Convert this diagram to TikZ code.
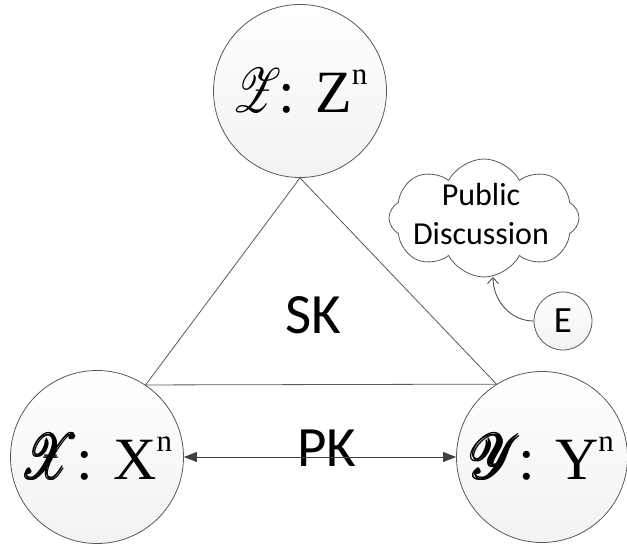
\documentclass[tikz,border=0pt]{standalone}
\usepackage{fontspec}
\setmainfont{Carlito}
\newfontfamily\tnr{Liberation Serif}
\usepackage{amsmath}
\usepackage{mathrsfs}
\usepackage{graphicx}
\usetikzlibrary{arrows.meta,shapes.symbols}
\definecolor{linegray}{HTML}{595959}
\definecolor{arrgray}{HTML}{404040}
\newcommand{\entlabel}[2]{#1\kern-3pt{\tnr\fontsize{60}{60}\selectfont : #2\raisebox{28pt}{\fontsize{31}{31}\selectfont n}}}
\begin{document}
\begin{tikzpicture}[x=1pt,y=-1pt,
  ent/.style={circle, draw=linegray, line width=0.8pt, top color=white, bottom color=black!5,
    minimum size=#1, inner sep=0pt},
  ent/.default=173pt,
  edgeline/.style={draw=linegray, line width=0.8pt},
  pkarrow/.style={draw=arrgray, line width=0.8pt,
    {Triangle[length=13pt,width=10pt]}-{Triangle[length=13pt,width=10pt]}},
  cloudarrow/.style={draw=arrgray, line width=0.8pt, -{Straight Barb[length=6pt,width=11pt]}},
  bigtext/.style={font=\fontsize{57}{60}\selectfont, inner sep=0pt},
  midtext/.style={font=\fontsize{32}{39}\selectfont, inner sep=0pt, align=center}
]
\useasboundingbox (0,0) rectangle (627,544);

\node[ent] (Z) at (300,91) {\entlabel{\scalebox{4.6}[6.3]{$\mathscr{Z}$}}{Z}};
\node[ent] (X) at (97,457) {\entlabel{\scalebox{4.8}[6.3]{$\pmb{\mathscr{X}}$}}{X}};
\node[ent=171pt] (Y) at (542,457) {\entlabel{\scalebox{5.1}[6.3]{$\pmb{\mathscr{Y}}$}}{Y}};

\draw[edgeline] (Z.south) -- (X.56) -- (Y.122) -- cycle;

\node[bigtext] (SK) at (313,315) {SK};
\node[bigtext] (PK) at (327,448) {PK};
\draw[pkarrow] (X.east) -- (Y.west);

\node[cloud, draw=linegray, line width=0.8pt, cloud puffs=8, cloud puff arc=125, aspect=1.6,
  minimum width=190pt, minimum height=118pt, inner sep=0pt] (PD) at (484,218) {};
\node[midtext] (PDtext) at (481,214) {Public\\Discussion};

\node[ent=58pt, font=\fontsize{37}{37}\selectfont] (E) at (563,321) {E};
\coordinate (cb) at (493,277);
\draw[cloudarrow] (E.west) .. controls (510,321) and (493,300) .. (cb);
\end{tikzpicture}
\end{document}
